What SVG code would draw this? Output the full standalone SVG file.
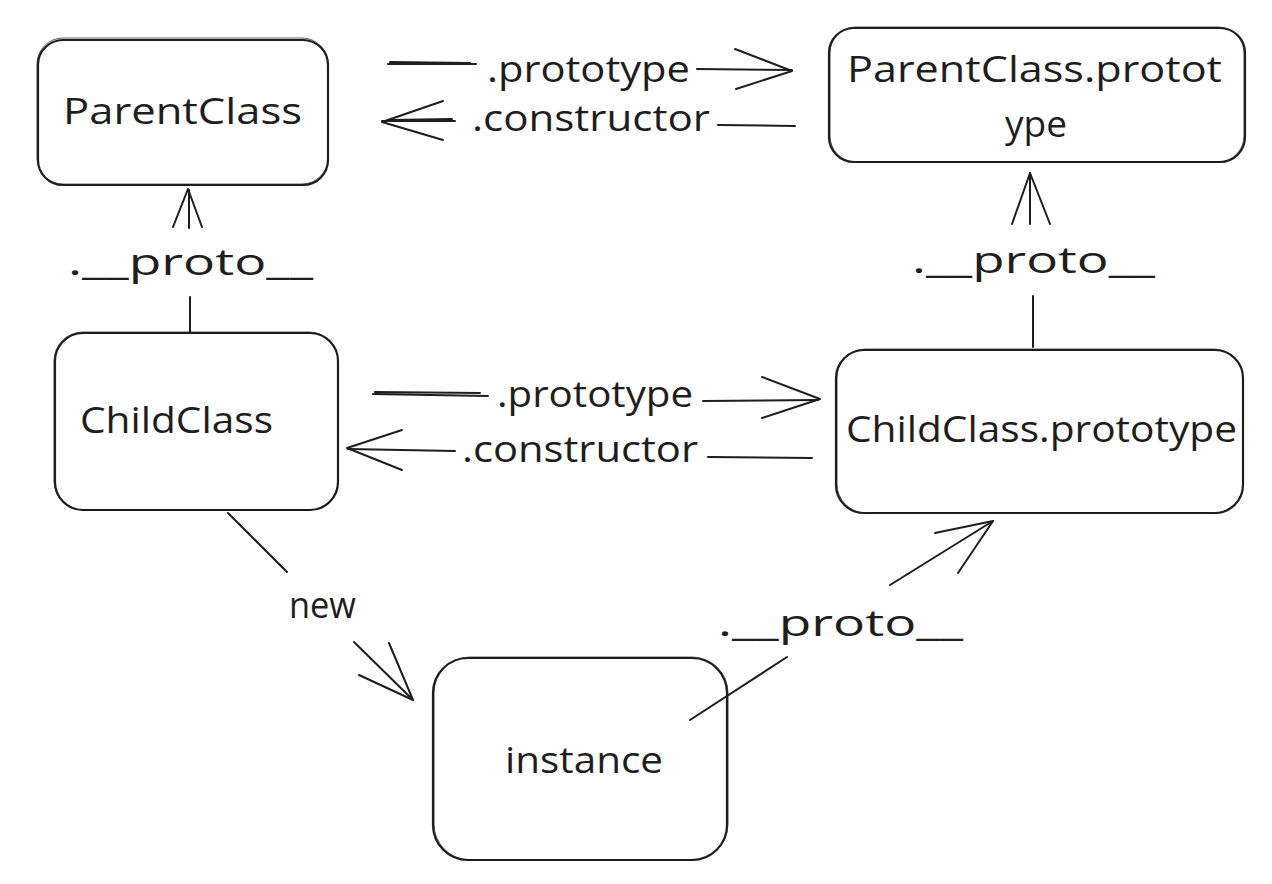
<svg xmlns="http://www.w3.org/2000/svg" width="1272" height="884" viewBox="0 0 1272 884">
<style>
.box{fill:none;stroke:#1e1e1e;stroke-width:2.2}
.box2{fill:none;stroke:#1e1e1e;stroke-width:1;opacity:.7}
.ln{fill:none;stroke:#1e1e1e;stroke-width:2;stroke-linecap:round;stroke-linejoin:round}
.t{font-family:"Open Sans","Liberation Sans",sans-serif;font-size:36px;fill:#1e1e1e}
</style>
<rect width="1272" height="884" fill="#ffffff"/>
<g id="connectors">
  <g id="c-top-prototype">
    <path class="ln" d="M388,64 L476,64 M390,62 L470,63"/>
    <path class="ln" d="M697,69 L792,70"/>
    <path class="ln" d="M735,49 L792,71 L736,89"/>
    <text class="t" x="487" y="82" textLength="203" lengthAdjust="spacingAndGlyphs">.prototype</text>
  </g>
  <g id="c-top-constructor">
    <path class="ln" d="M795,126 L718,125"/>
    <path class="ln" d="M455,121 L382,121 M452,119 L390,120"/>
    <path class="ln" d="M443,101 L382,122 L443,140"/>
    <text class="t" x="472" y="131" textLength="238" lengthAdjust="spacingAndGlyphs">.constructor</text>
  </g>
  <g id="c-left-proto">
    <path class="ln" d="M190,332 L190,297"/>
    <path class="ln" d="M189,228 L189,190"/>
    <path class="ln" d="M173,227 L188,189 L202,227"/>
    <text class="t" x="68" y="275" textLength="245" lengthAdjust="spacingAndGlyphs">.__proto__</text>
  </g>
  <g id="c-right-proto">
    <path class="ln" d="M1033,347 L1033,296"/>
    <path class="ln" d="M1030,224 L1030,173"/>
    <path class="ln" d="M1012,224 L1030,173 L1050,224"/>
    <text class="t" x="912" y="273" textLength="243" lengthAdjust="spacingAndGlyphs">.__proto__</text>
  </g>
  <g id="c-mid-prototype">
    <path class="ln" d="M373,394 L488,396 M375,392 L480,393"/>
    <path class="ln" d="M703,401 L818,400"/>
    <path class="ln" d="M762,377 L820,399 L762,418"/>
    <text class="t" x="497" y="407" textLength="196" lengthAdjust="spacingAndGlyphs">.prototype</text>
  </g>
  <g id="c-mid-constructor">
    <path class="ln" d="M812,458 L708,457"/>
    <path class="ln" d="M455,451 L348,449"/>
    <path class="ln" d="M402,430 L347,448 L402,470"/>
    <text class="t" x="462" y="462" textLength="236" lengthAdjust="spacingAndGlyphs">.constructor</text>
  </g>
  <g id="c-new">
    <path class="ln" d="M228,513 L287,572"/>
    <path class="ln" d="M354,642 L413,700"/>
    <path class="ln" d="M389,643 L413,700 L359,675"/>
    <text class="t" x="289" y="618" textLength="67" lengthAdjust="spacingAndGlyphs">new</text>
  </g>
  <g id="c-instance-proto">
    <path class="ln" d="M690,720 L787,657"/>
    <path class="ln" d="M890,585 L993,521"/>
    <path class="ln" d="M935,533 L993,521 L958,573"/>
    <text class="t" x="718" y="636" textLength="245" lengthAdjust="spacingAndGlyphs">.__proto__</text>
  </g>
</g>
<g id="node-parentclass">
  <rect class="box" x="38" y="40" width="290" height="145" rx="25"/>
  <rect class="box2" x="37" y="38" width="291" height="146" rx="26"/>
  <text class="t" x="63" y="124" textLength="239" lengthAdjust="spacingAndGlyphs">ParentClass</text>
</g>
<g id="node-parentclass-prototype">
  <rect class="box" x="829" y="28" width="416" height="134" rx="25"/>
  <rect class="box2" x="830" y="27" width="414" height="135" rx="26"/>
  <text class="t" x="847" y="82" textLength="375" lengthAdjust="spacingAndGlyphs">ParentClass.protot</text>
  <text class="t" x="1005" y="137" textLength="62" lengthAdjust="spacingAndGlyphs">ype</text>
</g>
<g id="node-childclass">
  <rect class="box" x="55" y="333" width="283" height="177" rx="28"/>
  <rect class="box2" x="54" y="332" width="284" height="178" rx="29"/>
  <text class="t" x="80" y="433" textLength="193" lengthAdjust="spacingAndGlyphs">ChildClass</text>
</g>
<g id="node-childclass-prototype">
  <rect class="box" x="836" y="350" width="407" height="163" rx="28"/>
  <rect class="box2" x="837" y="349" width="406" height="164" rx="29"/>
  <text class="t" x="846" y="442" textLength="391" lengthAdjust="spacingAndGlyphs">ChildClass.prototype</text>
</g>
<g id="node-instance">
  <rect class="box" x="433" y="658" width="294" height="202" rx="35"/>
  <rect class="box2" x="434" y="657" width="294" height="203" rx="36"/>
  <text class="t" x="505" y="773" textLength="158" lengthAdjust="spacingAndGlyphs">instance</text>
</g>
</svg>
